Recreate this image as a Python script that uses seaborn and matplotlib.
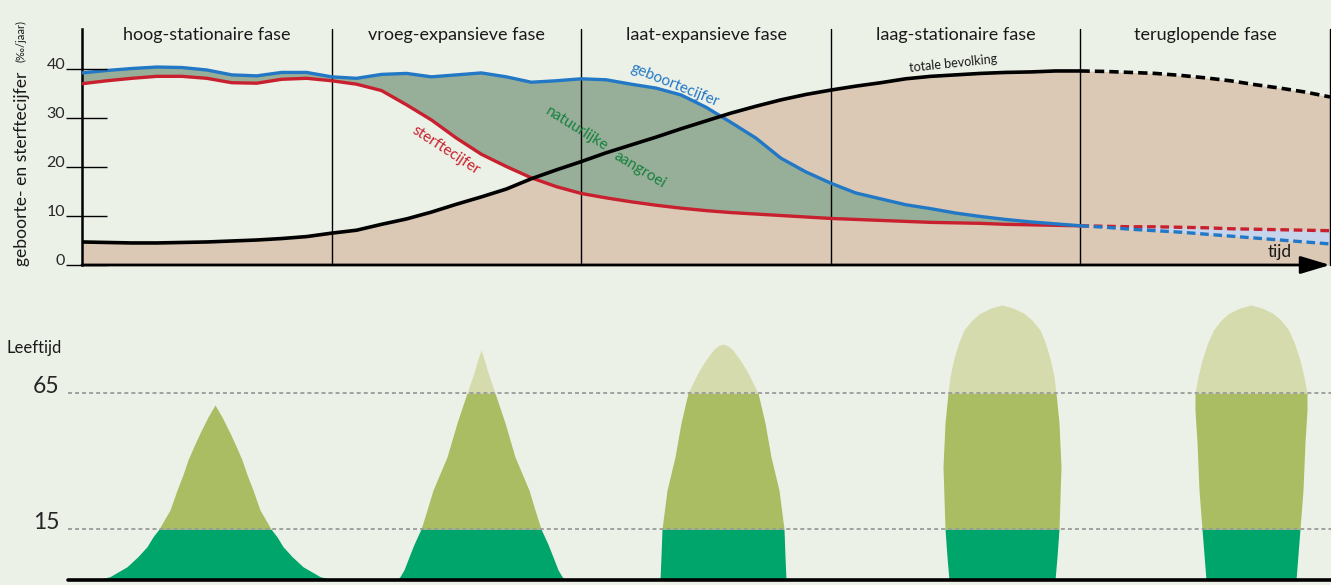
import numpy as np
import pandas as pd
import matplotlib
matplotlib.use("Agg")
import matplotlib.pyplot as plt
import seaborn as sns

# --- data: demografische transitie ---
fasen = ["hoog-stationaire fase", "vroeg-expansieve fase", "laat-expansieve fase",
         "laag-stationaire fase", "teruglopende fase"]

# tijd in fase-eenheden (0 = begin eerste fase, 5 = einde laatste fase)
tijd = [0.0, 0.1, 0.2, 0.3, 0.4, 0.5, 0.6, 0.7, 0.8, 0.9,
        1.0, 1.1, 1.2, 1.3, 1.4, 1.5, 1.6, 1.7, 1.8, 1.9,
        2.0, 2.1, 2.2, 2.3, 2.4, 2.5, 2.6, 2.7, 2.8, 2.9,
        3.0, 3.1, 3.2, 3.3, 3.4, 3.5, 3.6, 3.7, 3.8, 3.9,
        4.0, 4.1, 4.2, 4.3, 4.4, 4.5, 4.6, 4.7, 4.8, 4.9, 5.0]

geboortecijfer = [39.2, 39.7, 40.1, 40.4, 40.3, 39.8, 38.8, 38.6, 39.3, 39.3,
                  38.4, 38.1, 38.9, 39.1, 38.4, 38.8, 39.2, 38.4, 37.3, 37.6,
                  38.0, 37.8, 36.9, 36.1, 34.7, 32.2, 29.1, 25.9, 21.8, 19.0,
                  16.7, 14.7, 13.5, 12.3, 11.5, 10.6, 9.9, 9.3, 8.8, 8.4,
                  8.0, 7.7, 7.3, 7.0, 6.7, 6.3, 5.9, 5.5, 5.1, 4.7, 4.3]

sterftecijfer = [37.0, 37.6, 38.1, 38.5, 38.5, 38.1, 37.2, 37.1, 37.9, 38.1,
                 37.6, 36.9, 35.6, 32.7, 29.6, 25.9, 22.6, 20.1, 17.8, 16.0,
                 14.6, 13.7, 12.9, 12.2, 11.6, 11.1, 10.7, 10.4, 10.1, 9.8,
                 9.5, 9.3, 9.1, 8.9, 8.7, 8.6, 8.5, 8.3, 8.2, 8.1,
                 8.0, 7.9, 7.8, 7.8, 7.7, 7.6, 7.4, 7.3, 7.2, 7.1, 7.0]

totale_bevolking = [4.7, 4.6, 4.5, 4.5, 4.6, 4.7, 4.9, 5.1, 5.4, 5.8,
                    6.5, 7.1, 8.3, 9.4, 10.8, 12.4, 13.9, 15.5, 17.6, 19.4,
                    21.1, 22.9, 24.5, 26.1, 27.8, 29.4, 31.0, 32.4, 33.7, 34.8,
                    35.7, 36.5, 37.2, 38.0, 38.5, 38.8, 39.1, 39.3, 39.4, 39.6,
                    39.6, 39.5, 39.3, 39.1, 38.7, 38.2, 37.6, 36.8, 36.1, 35.3, 34.3]

y_ticks = [0, 10, 20, 30, 40]

# bevolkingspiramides: leeftijd -> halve breedte
pyr_leeftijd = [
    [0, 1.0, 3.9, 6.9, 9.8, 12.7, 15, 22, 29.3, 35, 40.4, 45.5, 50.3, 56.2, 60.6],
    [0, 1.0, 3.0, 6.8, 10.5, 15, 22, 29.3, 41.5, 54, 65, 72.4, 77, 80.8],
    [0, 7, 15, 29.3, 41.5, 54, 65, 72.4, 75.5, 78.3, 81.4, 82.5, 83],
    [0, 6.8, 15, 37.8, 54, 65, 71, 77.1, 83.3, 88.2, 91.8, 94.3, 96.1, 97.4],
    [0, 15, 29.3, 47, 58.7, 65, 71, 77.1, 83.3, 88.2, 91.8, 94.3, 96.1, 97.4],
]
pyr_breedte = [
    [118, 105, 88, 77, 68, 62, 56, 45, 38, 32, 27, 21, 15, 7, 0],
    [84, 81, 77, 72, 67, 60, 54, 48, 34, 24, 14, 7, 3.5, 0],
    [63, 62, 61, 56, 48, 42, 35, 25, 20, 15, 8.3, 4, 0],
    [53, 55, 57, 59, 57, 54, 52, 48.5, 43.5, 38, 30, 22, 12, 0],
    [45, 49, 52, 54, 56, 56, 53, 49, 43.5, 37.5, 30, 22, 12, 0],
]
leeftijd_grenzen = [15, 65]

# --- stijl ---
BG = "#ECF1E8"
BLAUW = "#2378C6"
ROOD = "#C8202F"
GROEN_TXT = "#17803F"
GROEN_VLAK = "#97AF98"
TAN = "#DBC8B5"
LICHTBLAUW = "#C6D4EC"
JONG, MIDDEN, OUD = "#00A56B", "#AABD62", "#D5DBAD"

sns.set_theme(style="white")
plt.rcParams["font.family"] = ["Lato", "DejaVu Sans"]
plt.rcParams["text.color"] = "#1a1a1a"

W, H = 1331, 585
fig = plt.figure(figsize=(W / 100, H / 100), dpi=100, facecolor=BG)


def fbox(left, top, right, bottom):
    return [left / W, 1 - bottom / H, (right - left) / W, (bottom - top) / H]


df = pd.DataFrame({"tijd": tijd, "geboorte": geboortecijfer,
                   "sterfte": sterftecijfer, "bevolking": totale_bevolking})
t = df["tijd"].to_numpy()
geb = df["geboorte"].to_numpy()
ste = df["sterfte"].to_numpy()

# --- bovenste paneel ---
ax = fig.add_axes(fbox(82, 29, 1330, 265))
ax.set_facecolor(BG)
ax.set_xlim(0, 5)
ax.set_ylim(0, 236 / 4.9)

ax.fill_between(t, 0, df["bevolking"], color=TAN, lw=0, zorder=1)
ax.fill_between(t, ste, geb, where=(t <= 4.0) & (geb >= ste), interpolate=True,
                color=GROEN_VLAK, lw=0, zorder=2)
ax.fill_between(t, geb, ste, where=t >= 4.0, color=LICHTBLAUW, lw=0, zorder=2)

for i in range(1, 6):
    ax.axvline(i, color="black", lw=1.0, zorder=3, clip_on=False)

vast = df[df["tijd"] <= 4.0]
prog = df[df["tijd"] >= 4.0]
for kol, kleur, lw in [("sterfte", ROOD, 2.4), ("geboorte", BLAUW, 2.4), ("bevolking", "black", 2.6)]:
    sns.lineplot(data=vast, x="tijd", y=kol, ax=ax, color=kleur, lw=lw,
                 estimator=None, sort=False, zorder=4,
                 solid_joinstyle="round", solid_capstyle="round")
    sns.lineplot(data=prog, x="tijd", y=kol, ax=ax, color=kleur, lw=lw,
                 estimator=None, sort=False, zorder=4,
                 linestyle=(0, (2.6, 1.4)))

for sp in ["top", "right", "bottom"]:
    ax.spines[sp].set_visible(False)
ax.spines["left"].set_linewidth(1.8)
ax.spines["left"].set_color("black")
ax.annotate("", xy=(1.0, 0), xytext=(0, 0), xycoords="axes fraction",
            arrowprops=dict(arrowstyle="-|>,head_length=0.9,head_width=0.27",
                            mutation_scale=20, lw=2.0, color="black",
                            shrinkA=0, shrinkB=0), zorder=6)

ax.set_xticks([])
ax.set_yticks(y_ticks)
ax.set_yticklabels([str(v) for v in y_ticks], fontsize=11.5)
ax.tick_params(axis="y", length=0, pad=12)
for lbl in ax.get_yticklabels():
    lbl.set_va("baseline")
ax.hlines(y_ticks, -16 / 1248, 25 / 1248, transform=ax.get_yaxis_transform(),
          color="black", lw=1.0, clip_on=False, zorder=5)
ax.set_xlabel("")
ax.set_ylabel("")

for i, naam in enumerate(fasen):
    ax.text(i + 0.5, 46.9, naam, ha="center", va="center", fontsize=13)

ax.text(2.376, 36.7, "geboortecijfer", color=BLAUW, rotation=-22,
        ha="center", va="center", fontsize=11)
ax.text(1.458, 23.5, "sterftecijfer", color=ROOD, rotation=-33,
        ha="center", va="center", fontsize=11)
ax.text(1.983, 27.8, "natuurlijke", color=GROEN_TXT, rotation=-32,
        ha="center", va="center", fontsize=11, zorder=5)
ax.text(2.236, 19.4, "aangroei", color=GROEN_TXT, rotation=-31,
        ha="center", va="center", fontsize=11, zorder=5)
ax.text(3.49, 41.2, "totale bevolking", rotation=6, ha="center", va="center", fontsize=9)
ax.text(4.80, 2.65, "tijd", ha="center", va="center", fontsize=12.5, zorder=5)

fig.text(22 / W, 1 - 266 / H, "geboorte- en sterftecijfer", rotation=90,
         ha="center", va="bottom", fontsize=12.6)
fig.text(21 / W, 1 - 62 / H, "(‰/jaar)", rotation=90,
         ha="center", va="bottom", fontsize=8)

# --- onderste paneel: leeftijdsopbouw ---
knoop_l = [-100, 0, 15, 65, 1000]
knoop_h = [-340, 0, 51, 187, 187 + 935 * 2.72]


def fwd(a):
    return np.interp(a, knoop_l, knoop_h)


def inv(h):
    return np.interp(h, knoop_h, knoop_l)


bx = fig.add_axes(fbox(68, 290, 1331, 580))
bx.set_facecolor(BG)
bx.set_yscale("function", functions=(fwd, inv))
bx.set_xlim(68, 1331)
bx.set_ylim(0, inv(290))

centra = [215, 481, 723, 1002, 1251]
for c, leeftijd, breedte in zip(centra, pyr_leeftijd, pyr_breedte):
    a = np.array(leeftijd, dtype=float)
    b = np.array(breedte, dtype=float)
    for lo, hi, kleur in [(0, 15, JONG), (15, 65, MIDDEN), (65, 200, OUD)]:
        m = (a >= lo) & (a <= hi)
        if m.sum() < 2:
            continue
        bx.fill_betweenx(a[m], c - b[m], c + b[m], color=kleur, lw=0, zorder=2)

for g in leeftijd_grenzen:
    bx.axhline(g, color="#9a9a9a", lw=1.3, linestyle=(0, (2.2, 1.7)), zorder=4)
bx.axhline(0, color="black", lw=2.6, zorder=5, clip_on=False)

for sp in bx.spines.values():
    sp.set_visible(False)
bx.set_xticks([])
bx.set_yticks(leeftijd_grenzen)
bx.set_yticklabels([str(g) for g in leeftijd_grenzen], fontsize=16.5)
bx.yaxis.set_minor_locator(matplotlib.ticker.NullLocator())
bx.tick_params(axis="y", length=0, pad=6)
for lbl in bx.get_yticklabels():
    lbl.set_va("baseline")

fig.text(7 / W, 1 - 353 / H, "Leeftijd", ha="left", va="baseline", fontsize=12)

fig.savefig("out.png", dpi=100, facecolor=BG)
